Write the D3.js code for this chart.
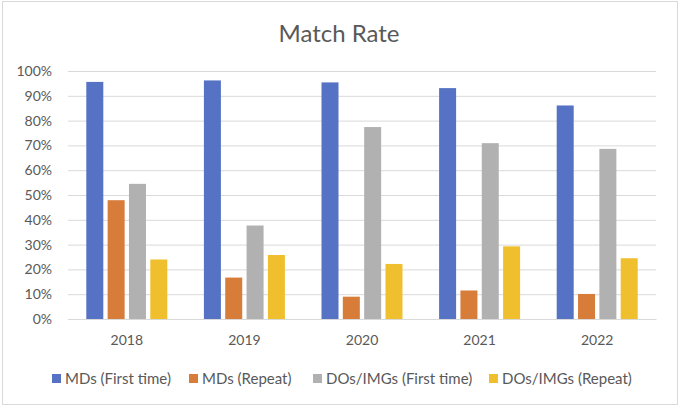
<!DOCTYPE html>
<html><head><meta charset="utf-8">
<script src="https://cdn.jsdelivr.net/npm/d3@7"></script>
<style>body{margin:0;background:#fff}svg{display:block}text{font-family:Lato,"Open Sans",sans-serif}</style>
</head><body><svg id="c" width="680" height="408"></svg>
<script>
const title = "Match Rate";
const years = ["2018","2019","2020","2021","2022"];
const seriesNames = ["MDs (First time)","MDs (Repeat)","DOs/IMGs (First time)","DOs/IMGs (Repeat)"];
const mdsFirst = [95.6, 96.2, 95.4, 93.1, 86.1];
const mdsRepeat = [47.9, 16.7, 9.0, 11.5, 10.1];
const dosFirst = [54.5, 37.7, 77.4, 70.9, 68.6];
const dosRepeat = [24.0, 25.8, 22.2, 29.3, 24.5];
const yTicks = [0,10,20,30,40,50,60,70,80,90,100];
const colors = ["#5572C4","#D87C39","#B1B1B1","#F0BF2E"];
const seriesValues = [mdsFirst, mdsRepeat, dosFirst, dosRepeat];

(function(){
const svg = d3.select("#c");
svg.append("rect").attr("x",2.5).attr("y",1.5).attr("width",675).attr("height",403)
  .attr("fill","#fff").attr("stroke","#D9D9D9").attr("stroke-width",1);

const pl = 68, pr = 656, pt = 71, pb = 319;
const x = d3.scaleBand().domain(years).range([pl,pr]).paddingInner(0).paddingOuter(0);
const y = d3.scaleLinear().domain([0,100]).range([pb,pt]);
const groupW = 81, barW = 17, step = (groupW - barW)/3;

svg.append("text").attr("x",339).attr("y",42).attr("text-anchor","middle")
  .attr("font-size",24).attr("fill","#595959").text(title);

const yAxis = d3.axisLeft(y).tickValues(yTicks).tickSize(-(pr-pl)).tickFormat(d=>d+"%");
const gy = svg.append("g").attr("transform",`translate(${pl},0)`).call(yAxis);
gy.select(".domain").remove();
gy.selectAll(".tick line").attr("stroke","#D9D9D9").attr("stroke-width",1);
gy.selectAll(".tick text").attr("x",-16).attr("font-size",14).attr("fill","#595959");

const xAxis = d3.axisBottom(x).tickSize(0);
const gx = svg.append("g").attr("transform",`translate(0,${pb})`).call(xAxis);
gx.select(".domain").attr("stroke","#D9D9D9");
gx.selectAll(".tick text").attr("y",26).attr("dy",0).attr("font-size",14).attr("fill","#595959");

seriesValues.forEach((vals,si)=>{
  svg.append("g").selectAll("rect").data(vals).join("rect")
    .attr("x",(d,i)=>x(years[i]) + x.bandwidth()/2 - groupW/2 + si*step)
    .attr("y",d=>y(d)).attr("width",barW).attr("height",d=>y(0)-y(d))
    .attr("fill",colors[si]);
});

const legendX = [52,189,313,489];
const lg = svg.append("g");
seriesNames.forEach((n,i)=>{
  lg.append("rect").attr("x",legendX[i]).attr("y",374).attr("width",9).attr("height",9).attr("fill",colors[i]);
  lg.append("text").attr("x",legendX[i]+13).attr("y",384).attr("font-size",15).attr("fill","#595959").text(n);
});
})();
</script></body></html>
